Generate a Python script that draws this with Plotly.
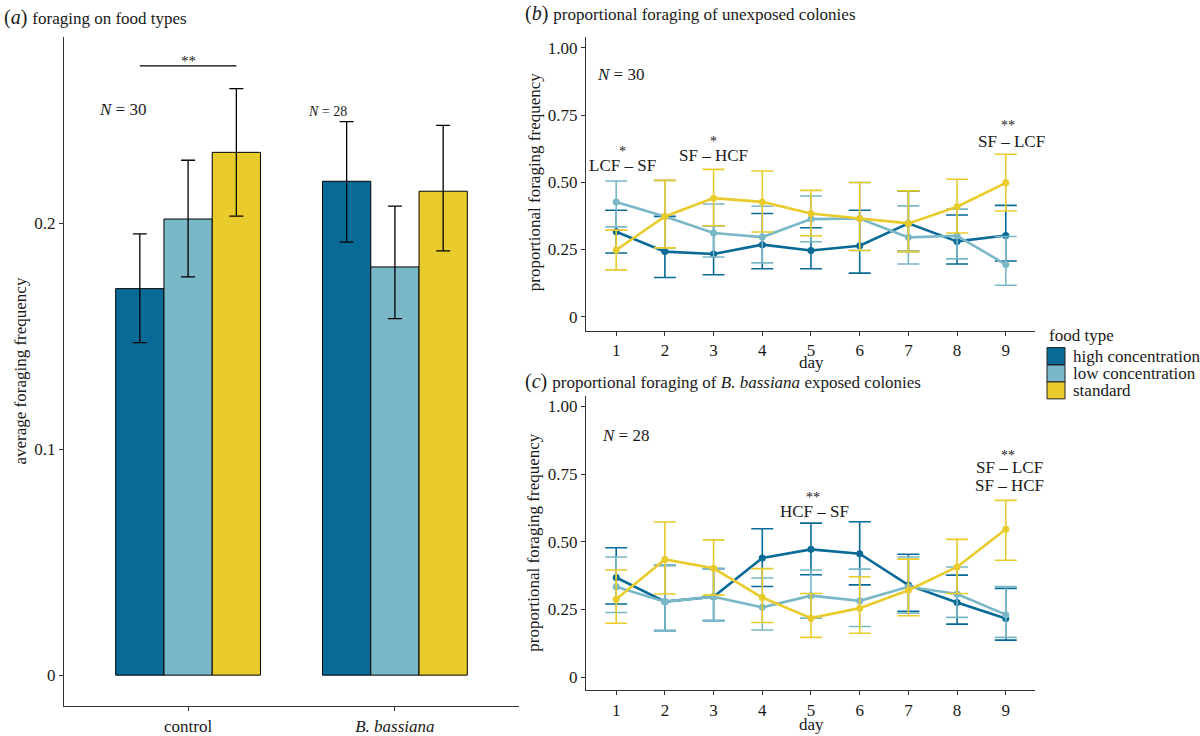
import plotly.graph_objects as go

# ---------------- data ----------------
food_types = ["high concentration", "low concentration", "standard"]
colors = ["#086A97", "#7AB7C7", "#E9CB2C"]

# panel (a): average foraging frequency
groups = ["control", "B. bassiana"]
a_hc = [0.171, 0.2185]
a_hc_lo = [0.1471, 0.1916]
a_hc_hi = [0.1952, 0.2449]
a_lc = [0.2018, 0.1806]
a_lc_lo = [0.1762, 0.1577]
a_lc_hi = [0.2278, 0.2075]
a_sf = [0.2313, 0.2141]
a_sf_lo = [0.2031, 0.1877]
a_sf_hi = [0.2595, 0.2432]
a_sig_y = 0.2696

days = [1, 2, 3, 4, 5, 6, 7, 8, 9]

# panel (b): unexposed colonies
b_hc = [0.316, 0.242, 0.233, 0.268, 0.246, 0.264, 0.347, 0.280, 0.302]
b_hc_lo = [0.237, 0.146, 0.156, 0.178, 0.178, 0.162, 0.243, 0.196, 0.207]
b_hc_hi = [0.396, 0.373, 0.338, 0.384, 0.331, 0.396, 0.467, 0.378, 0.414]
b_lc = [0.427, 0.373, 0.311, 0.296, 0.363, 0.365, 0.295, 0.301, 0.194]
b_lc_lo = [0.334, 0.256, 0.222, 0.200, 0.279, 0.246, 0.196, 0.215, 0.117]
b_lc_hi = [0.505, 0.507, 0.419, 0.411, 0.449, 0.499, 0.412, 0.400, 0.298]
b_sf = [0.248, 0.373, 0.441, 0.427, 0.384, 0.365, 0.347, 0.409, 0.498]
b_sf_lo = [0.174, 0.256, 0.338, 0.315, 0.301, 0.246, 0.242, 0.311, 0.393]
b_sf_hi = [0.322, 0.507, 0.548, 0.542, 0.470, 0.499, 0.468, 0.511, 0.604]

# panel (c): B. bassiana exposed colonies
c_hc = [0.368, 0.279, 0.297, 0.440, 0.472, 0.456, 0.340, 0.276, 0.217]
c_hc_lo = [0.270, 0.172, 0.209, 0.335, 0.378, 0.341, 0.243, 0.196, 0.137]
c_hc_hi = [0.478, 0.413, 0.401, 0.548, 0.569, 0.574, 0.454, 0.377, 0.328]
c_lc = [0.334, 0.279, 0.297, 0.258, 0.301, 0.282, 0.334, 0.307, 0.231]
c_lc_lo = [0.239, 0.172, 0.209, 0.174, 0.218, 0.187, 0.236, 0.221, 0.147]
c_lc_hi = [0.444, 0.413, 0.401, 0.366, 0.396, 0.399, 0.444, 0.407, 0.335]
c_sf = [0.288, 0.435, 0.402, 0.294, 0.218, 0.255, 0.321, 0.407, 0.546]
c_sf_lo = [0.199, 0.307, 0.303, 0.202, 0.147, 0.162, 0.227, 0.309, 0.432]
c_sf_hi = [0.396, 0.573, 0.507, 0.401, 0.309, 0.371, 0.436, 0.509, 0.653]

W, H = 1200, 736
FONT = "Liberation Serif"
TXT = "#1a1a1a"
AX = "#333333"


def px(x):
    return x / W


def py(y):
    return 1 - y / H


fig = go.Figure()

# ---- panel a bars ----
bar_sets = [(a_hc, a_hc_lo, a_hc_hi), (a_lc, a_lc_lo, a_lc_hi), (a_sf, a_sf_lo, a_sf_hi)]
for name, col, (v, lo, hi) in zip(food_types, colors, bar_sets):
    fig.add_trace(go.Bar(
        x=groups, y=v, name=name, marker=dict(color=col, line=dict(color="black", width=1)),
        error_y=dict(type="data", array=[h - m for h, m in zip(hi, v)],
                     arrayminus=[m - l for m, l in zip(v, lo)],
                     color="black", thickness=1.3, width=7),
        xaxis="x", yaxis="y", showlegend=False))

# ---- panels b and c lines ----
line_sets = [
    ("x2", "y2", [(b_hc, b_hc_lo, b_hc_hi), (b_lc, b_lc_lo, b_lc_hi), (b_sf, b_sf_lo, b_sf_hi)]),
    ("x3", "y3", [(c_hc, c_hc_lo, c_hc_hi), (c_lc, c_lc_lo, c_lc_hi), (c_sf, c_sf_lo, c_sf_hi)]),
]
for xa, ya, sets in line_sets:
    for name, col, (v, lo, hi) in zip(food_types, colors, sets):
        fig.add_trace(go.Scatter(
            x=days, y=v, mode="lines+markers", name=name,
            line=dict(color=col, width=2.6), marker=dict(color=col, size=7),
            error_y=dict(type="data", array=[h - m for h, m in zip(hi, v)],
                         arrayminus=[m - l for m, l in zip(v, lo)],
                         color=col, thickness=1.6, width=11),
            xaxis=xa, yaxis=ya, showlegend=False))

axis_common = dict(showline=True, linecolor=AX, linewidth=1.4, ticks="outside", ticklen=4,
                   tickcolor=AX, tickwidth=1.2, showgrid=False, zeroline=False,
                   tickfont=dict(family=FONT, size=17, color=TXT))

fig.update_layout(
    width=W, height=H, margin=dict(l=0, r=0, t=0, b=0),
    paper_bgcolor="white", plot_bgcolor="white",
    barmode="group", bargap=0.3, bargroupgap=0,
    showlegend=False,
    font=dict(family=FONT, color=TXT),
    xaxis=dict(domain=[px(64), px(519)], anchor="y", type="category", range=[-0.6, 1.6],
               tickmode="array", tickvals=groups, ticktext=["control", "<i>B. bassiana</i>"],
               **axis_common),
    yaxis=dict(domain=[py(709), py(37)], anchor="x", range=[-0.0137, 0.2824],
               tickvals=[0, 0.1, 0.2], ticktext=["0", "0.1", "0.2"], **axis_common),
    xaxis2=dict(domain=[px(586), px(1035)], anchor="y2", range=[0.38, 9.6],
                tickvals=days, **axis_common),
    yaxis2=dict(domain=[py(332), py(37)], anchor="x2", range=[-0.052, 1.041],
                tickvals=[0, 0.25, 0.5, 0.75, 1.0], ticktext=["0", "0.25", "0.50", "0.75", "1.00"],
                **axis_common),
    xaxis3=dict(domain=[px(586), px(1035)], anchor="y3", range=[0.38, 9.6],
                tickvals=days, **axis_common),
    yaxis3=dict(domain=[py(693), py(398)], anchor="x3", range=[-0.048, 1.037],
                tickvals=[0, 0.25, 0.5, 0.75, 1.0], ticktext=["0", "0.25", "0.50", "0.75", "1.00"],
                **axis_common),
)

# significance bar in panel a (between high concentration and standard bars of control)
fig.add_shape(type="line", xref="x", yref="y", x0=-0.2333, x1=0.2333, y0=a_sig_y, y1=a_sig_y,
              line=dict(color="black", width=1.3))

ann = []


def text(x, y, t, size=16, xanchor="center", yanchor="middle", angle=0, color=TXT):
    ann.append(dict(x=px(x), y=py(y), xref="paper", yref="paper", text=t, showarrow=False,
                    xanchor=xanchor, yanchor=yanchor, textangle=angle,
                    font=dict(family=FONT, size=size, color=color)))


# panel titles
text(2, 18, "(<i>a</i>) <span style='font-size:17px'>foraging on food types</span>", size=20, xanchor="left")
text(523, 14, "(<i>b</i>) <span style='font-size:17px'>proportional foraging of unexposed colonies</span>",
     size=20, xanchor="left")
text(523, 383, "(<i>c</i>) <span style='font-size:17px'>proportional foraging of <i>B. bassiana</i> exposed colonies</span>",
     size=20, xanchor="left")

# axis titles
text(20, 373, "average foraging frequency", size=17, angle=-90)
text(534, 183, "proportional foraging frequency", size=17, angle=-90)
text(534, 545, "proportional foraging frequency", size=17, angle=-90)
text(811, 364, "day", size=17)
text(811, 727, "day", size=17)

# sample sizes
text(122, 110, "<i>N</i> = 30", size=17)
text(327, 112, "<i>N</i> = 28", size=14)
text(620, 75, "<i>N</i> = 30", size=17)
text(626, 437, "<i>N</i> = 28", size=17)

# significance labels
text(188, 61, "**", size=15)
text(622, 166, "LCF – SF", size=17)
text(622, 152, "*", size=14)
text(713, 156, "SF – HCF", size=17)
text(713, 142, "*", size=14)
text(1011, 142, "SF – LCF", size=17)
text(1008, 126, "**", size=14)
text(814, 514, "HCF – SF", size=17)
text(813, 500, "**", size=14)
text(1009, 469, "SF – LCF", size=17)
text(1009, 487, "SF – HCF", size=17)
text(1008, 457, "**", size=14)

# legend (manual)
text(1047, 337, "food type", size=17, xanchor="left")
sw_top = [349, 366.5, 383.5]
for i, (name, col) in enumerate(zip(food_types, colors)):
    y0 = sw_top[i]
    fig.add_shape(type="rect", xref="paper", yref="paper", x0=px(1047), x1=px(1065),
                  y0=py(y0 + 17), y1=py(y0), fillcolor=col, line=dict(color="#222", width=1))
    text(1071, y0 + 8.5, name, size=17, xanchor="left")

fig.update_layout(annotations=ann)
fig.write_html("out.html", config={"displayModeBar": False},
               post_script="document.body.style.margin='0';document.body.style.overflow='hidden';")
